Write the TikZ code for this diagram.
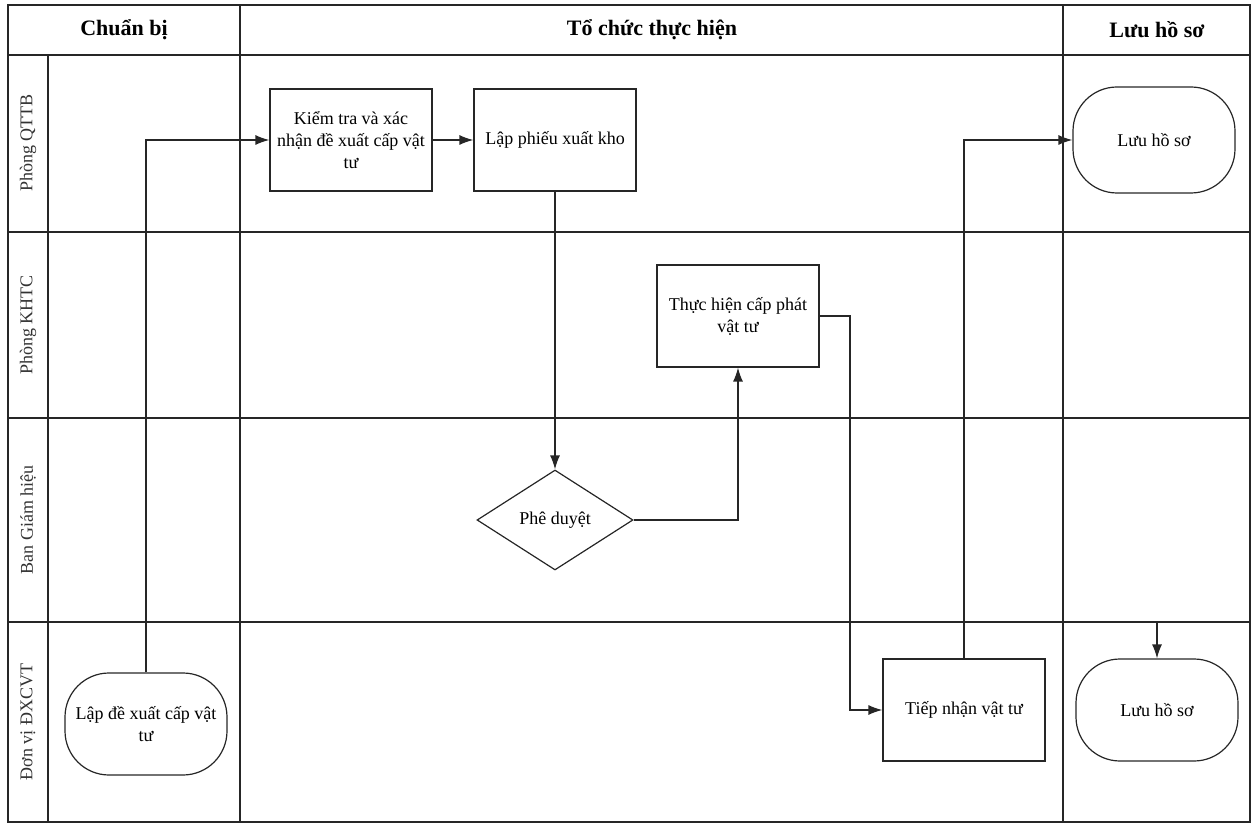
\documentclass[tikz,border=0pt]{standalone}
\usepackage{fontspec}
\setmainfont{Liberation Serif}
\usetikzlibrary{arrows.meta,shapes.geometric}
\begin{document}
\begin{tikzpicture}[x=1pt,y=-1pt,
  frame/.style={line width=1.4pt, draw=black!85},
  boxnode/.style={draw=black!85, line width=1.2pt, minimum width=162pt, minimum height=102pt, align=center, inner sep=2pt, font=\fontsize{18}{22}\selectfont},
  termnode/.style={boxnode, rounded corners=44pt},
  decnode/.style={draw=black!85, line width=1.2pt, diamond, minimum width=156pt, minimum height=100pt, inner sep=0pt, font=\fontsize{18}{22}\selectfont},
  hdr/.style={font=\bfseries\fontsize{22}{26}\selectfont},
  lanelbl/.style={rotate=90, font=\fontsize{18}{22}\selectfont, text=black!80},
  conn/.style={line width=1.3pt, draw=black!85, -{Latex[length=14pt,width=10pt]}},
  plain/.style={line width=1.3pt, draw=black!85}
]
\useasboundingbox (0,0) rectangle (1251,826);
% frame
\draw[frame] (8,5) rectangle (1250,822);
\draw[frame] (8,55) -- (1250,55);
\draw[frame] (48,55) -- (48,822);
\draw[frame] (240,5) -- (240,822);
\draw[frame] (1063,5) -- (1063,822);
\draw[frame] (8,232) -- (1250,232);
\draw[frame] (8,418) -- (1250,418);
\draw[frame] (8,622) -- (1250,622);
% headers
\node[hdr] (h1) at (124,30) {Chuẩn bị};
\node[hdr] (h2) at (652,30) {Tổ chức thực hiện};
\node[hdr] (h3) at (1157,30) {Lưu hồ sơ};
% lane labels
\node[lanelbl] (l1) at (28,143) {Phòng QTTB};
\node[lanelbl] (l2) at (28,325) {Phòng KHTC};
\node[lanelbl] (l3) at (28,520) {Ban Giám hiệu};
\node[lanelbl] (l4) at (28,722) {Đơn vị ĐXCVT};
% nodes
\node[termnode] (lde) at (146,724) {Lập đề xuất cấp vật\\tư};
\node[boxnode] (kt) at (351,140) {Kiểm tra và xác\\nhận đề xuất cấp vật\\tư};
\node[boxnode] (lp) at (555,140) {Lập phiếu xuất kho};
\node[decnode] (pd) at (555,520) {Phê duyệt};
\node[boxnode] (th) at (738,316) {Thực hiện cấp phát\\vật tư};
\node[boxnode] (tn) at (964,710) {Tiếp nhận vật tư};
\node[termnode, minimum height=106pt] (ls1) at (1154,140) {Lưu hồ sơ};
\node[termnode] (ls2) at (1157,710) {Lưu hồ sơ};
% connectors
\coordinate (c1) at (850,316);
\coordinate (c2) at (1157,622);
\draw[conn] (lde.north) |- (kt.west);
\draw[conn] (kt.east) -- (lp.west);
\draw[conn] (lp.south) -- (pd.north);
\draw[conn] (pd.east) -| (th.south);
\draw[conn] (th.east) -- (c1) |- (tn.west);
\draw[conn] (tn.north) |- (ls1.west);
\draw[conn] (c2) -- (ls2.north);
\end{tikzpicture}
\end{document}
